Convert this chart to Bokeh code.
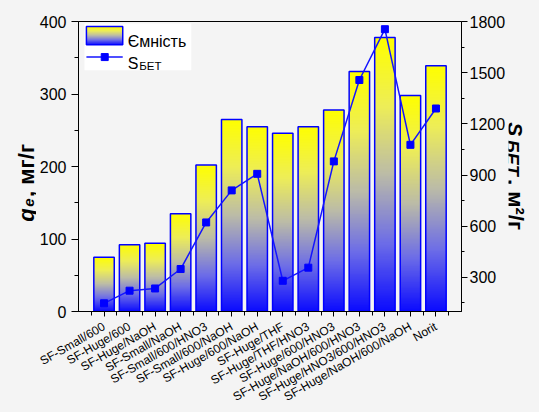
import numpy as np
from bokeh.plotting import figure
from bokeh.layouts import row
from bokeh.models import Range1d, LinearAxis, FixedTicker, Label
from bokeh.embed import file_html
from bokeh.resources import INLINE

# ---------------- data ----------------
categories = ["SF-Small/600", "SF-Huge/600", "SF-Huge/NaOH", "SF-Small/NaOH",
              "SF-Small/600/HNO3", "SF-Small/600/NaOH", "SF-Huge/600/NaOH",
              "SF-Huge/THF", "SF-Huge/THF/HNO3", "SF-Huge/600/HNO3",
              "SF-Huge/NaOH/600/HNO3", "SF-Huge/HNO3/600/HNO3",
              "SF-Huge/NaOH/600/NaOH", "Norit"]
capacity = [75, 92, 94, 135, 202, 265, 255, 246, 255, 278, 331, 378, 298, 339]
s_bet = [148, 222, 235, 349, 622, 810, 907, 280, 357, 980, 1457, 1755, 1077, 1290]
left_ticks = [0, 100, 200, 300, 400]
left_minor = [50, 150, 250, 350]
right_ticks = [300, 600, 900, 1200, 1500, 1800]
right_minor = [150, 450, 750, 1050, 1350, 1650]
left_range = (0, 400)
right_range = (100, 1800)

legend_bar = "Ємність"
legend_line = ("S", "БЕТ")
left_title = ("q", "e", ", мг/г")
right_title = ("S", "БЕТ", ", м²/г")

FONT = "Liberation Sans"
BG = "#f4f4f4"
BLUE = "#0000ff"
LINE_BLUE = "#1414ff"

n = len(categories)
xs = list(range(1, n + 1))

# ---------------- layout sizes ----------------
TOTAL_W, TOTAL_H = 539, 412
LW, RW = 36, 31                 # side strips holding the axis titles
MW = TOTAL_W - LW - RW          # main figure width
FRAME_L, FRAME_R, FRAME_T, FRAME_B = 76, 463, 21, 312   # page px
ML, MR = FRAME_L - LW, (TOTAL_W - RW) - FRAME_R
MT, MB = FRAME_T, TOTAL_H - FRAME_B
FW, FH = FRAME_R - FRAME_L, FRAME_B - FRAME_T
X0, X1 = 0, n + 1

p = figure(width=MW, height=TOTAL_H, output_backend="svg", toolbar_location=None,
           x_range=Range1d(X0, X1), y_range=Range1d(*left_range),
           min_border_left=ML, min_border_right=MR, min_border_top=MT,
           min_border_bottom=MB)
p.background_fill_color = BG
p.border_fill_color = BG
p.outline_line_color = "black"
p.outline_line_width = 1
p.xgrid.visible = False
p.ygrid.visible = False
p.extra_y_ranges = {"sbet": Range1d(*right_range)}

# page-pixel -> data helpers (legend decoration only)
def dxp(px):
    return (px - FRAME_L) / FW * (X1 - X0) + X0

def dyp(py):
    return left_range[1] - (py - FRAME_T) / FH * (left_range[1] - left_range[0])

# ---------------- gradient ----------------
def gradient(nrows=256):
    t = np.linspace(0, 1, nrows)
    stops = [0.0, 0.25, 0.5, 0.75, 1.0]
    r = np.interp(t, stops, [12, 110, 188, 238, 255])
    g = np.interp(t, stops, [12, 110, 188, 238, 255])
    b = np.interp(t, stops, [255, 232, 168, 88, 0])
    img = np.empty((nrows, 1), dtype=np.uint32)
    view = img.view(dtype=np.uint8).reshape((nrows, 1, 4))
    view[:, 0, 0] = r.astype(np.uint8)
    view[:, 0, 1] = g.astype(np.uint8)
    view[:, 0, 2] = b.astype(np.uint8)
    view[:, 0, 3] = 255
    return img

grad = gradient()
bar_w = 0.8

# bars: gradient images scaled by the data values, plus outline
p.image_rgba(image=[grad] * n, x=[x - bar_w / 2 for x in xs], y=[0] * n,
             dw=[bar_w] * n, dh=capacity)
p.vbar(x=xs, top=capacity, width=bar_w, fill_alpha=0, line_color=BLUE,
       line_width=1.5)

# S_BET line
p.line(xs, s_bet, y_range_name="sbet", line_color=LINE_BLUE, line_width=1.5)
p.scatter(xs, s_bet, y_range_name="sbet", marker="square", size=7,
          fill_color=BLUE, line_color=BLUE)

# ---------------- axes ----------------
def style_axis(ax, size="16px"):
    ax.axis_line_color = "black"
    ax.major_tick_line_color = "black"
    ax.minor_tick_line_color = "black"
    ax.major_label_text_font = FONT
    ax.major_label_text_font_size = size
    ax.major_label_text_color = "black"
    ax.major_tick_in = 0
    ax.minor_tick_in = 0

xa = p.xaxis[0]
xa.ticker = FixedTicker(ticks=xs, minor_ticks=[x - 0.5 for x in xs] + [n + 0.5])
xa.major_label_overrides = {x: c for x, c in zip(xs, categories)}
xa.major_label_orientation = np.pi / 6
style_axis(xa, "12px")
xa.major_tick_out = 5
xa.minor_tick_out = 4
xa.major_label_standoff = 9

ya = p.yaxis[0]
ya.ticker = FixedTicker(ticks=left_ticks, minor_ticks=left_minor)
style_axis(ya)
ya.major_tick_out = 7
ya.minor_tick_out = 4
ya.major_label_standoff = 5

ra = LinearAxis(y_range_name="sbet",
                ticker=FixedTicker(ticks=right_ticks, minor_ticks=right_minor))
style_axis(ra)
ra.major_tick_out = 6
ra.minor_tick_out = 3
ra.major_label_standoff = 2
p.add_layout(ra, "right")

def lab(fig, text, x, y, size, style="bold", angle=0.0):
    fig.add_layout(Label(x=x, y=y, text=text, angle=angle,
                         text_font=FONT, text_font_size=size,
                         text_font_style=style, text_color="black",
                         text_align="left", text_baseline="alphabetic"))

# ---------------- legend (manual) ----------------
p.quad(left=[dxp(82)], right=[dxp(190)], top=[dyp(23)], bottom=[dyp(70)],
       fill_color="white", line_alpha=0)
p.image_rgba(image=[grad], x=[dxp(84)], y=[dyp(44.3)],
             dw=[dxp(120.7) - dxp(84)], dh=[dyp(26) - dyp(44.3)])
p.quad(left=[dxp(84)], right=[dxp(120.7)], top=[dyp(26)], bottom=[dyp(44.3)],
       fill_alpha=0, line_color=BLUE, line_width=1.5)
p.segment(x0=[dxp(84)], y0=[dyp(56.7)], x1=[dxp(120.7)], y1=[dyp(56.7)],
          line_color=LINE_BLUE, line_width=1.5)
p.scatter([dxp(102.5)], [dyp(56.7)], marker="square", size=7,
          fill_color=BLUE, line_color=BLUE)
lab(p, legend_bar, dxp(125.7), dyp(41), "16px", "normal")
lab(p, legend_line[0], dxp(125.7), dyp(63.3), "16px", "normal")
lab(p, legend_line[1], dxp(137.3), dyp(66), "11.5px", "normal")

# ---------------- side strips with axis titles ----------------
# (row layout aligns the strips' frames with the main frame vertically,
#  so the y range maps page-y FRAME_T..FRAME_B onto the frame)
def strip(width, x_offset):
    f = figure(width=width, height=TOTAL_H, output_backend="svg",
               toolbar_location=None, min_border=0,
               min_border_top=MT, min_border_bottom=MB,
               x_range=Range1d(x_offset, x_offset + width),
               y_range=Range1d(FRAME_B, FRAME_T),
               x_axis_type=None, y_axis_type=None)
    f.background_fill_color = BG
    f.border_fill_color = BG
    f.outline_line_color = None
    f.xgrid.visible = False
    f.ygrid.visible = False
    return f

lf = strip(LW, 0)
rf = strip(RW, TOTAL_W - RW)

# left: q_e, мг/г  (reads bottom -> top)
lab(lf, left_title[0], 26, 222, "22px", "bold italic", np.pi / 2)
lab(lf, left_title[1], 28.5, 207, "15px", "bold italic", np.pi / 2)
lab(lf, left_title[2], 26, 197, "22px", "bold", np.pi / 2)

# right: S_БЕТ, м²/г  (reads top -> bottom)
lab(rf, right_title[0], 515, 122, "21px", "bold italic", -np.pi / 2)
lab(rf, right_title[1], 511.5, 140, "18px", "bold italic", -np.pi / 2)
lab(rf, right_title[2], 515, 179, "22px", "bold", -np.pi / 2)

layout = row(lf, p, rf, spacing=0)

html = file_html(layout, INLINE)
html = html.replace("</head>", "<style>body{background:%s;}</style></head>" % BG, 1)
open("out.html", "w").write(html)
